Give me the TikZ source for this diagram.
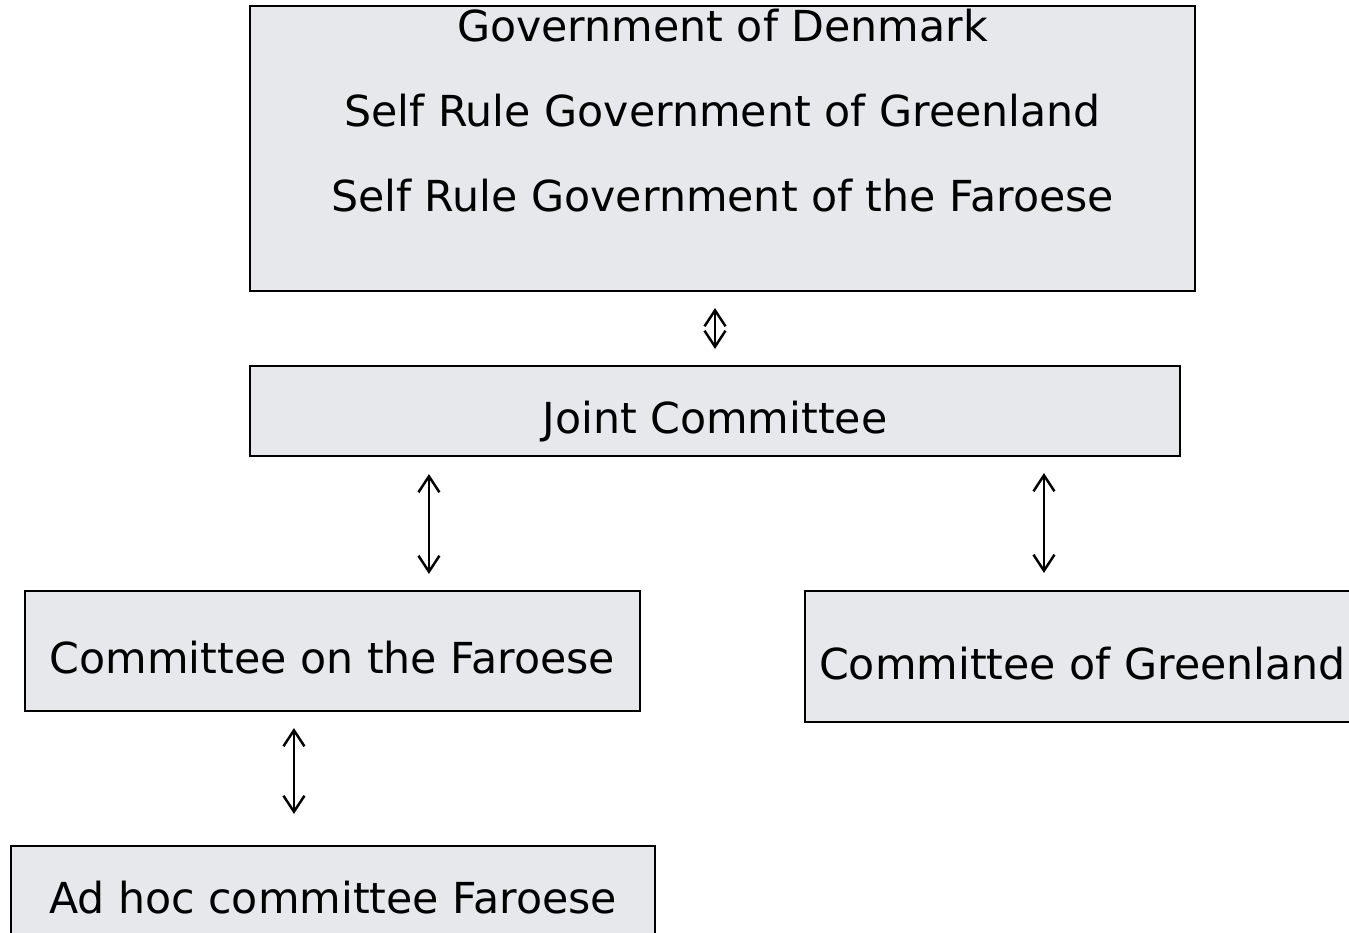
\documentclass[tikz,border=0pt]{standalone}
\usepackage{fontspec}
\setmainfont{DejaVu Sans}
\usepackage{tikz}
\usetikzlibrary{arrows.meta, positioning}
\definecolor{colorBox}{RGB}{231,232,236}
\tikzset{box/.style={draw=black, line width=0.6pt, fill=colorBox, inner sep=0pt, text height=0.5cm, text depth=0.05cm}}
\begin{document}
\begin{tikzpicture}[>={Straight Barb[length=1.6mm, width=2.1mm]}, link/.style={<->, line width=0.7pt}, every node/.style={font=\fontsize{12.15}{14.6}\selectfont}]
\useasboundingbox (0,0) rectangle (13.49,9.32);
\clip (0,0) rectangle (13.49,9.32);
\node[box, minimum width=9.45cm, minimum height=2.85cm] (gov) at (7.225,7.835) {};
\node[below=-0.08cm of gov.north, align=center, font=\fontsize{12.15}{24.1}\selectfont] (govtext) {Government of Denmark\\Self Rule Government of Greenland\\Self Rule Government of the Faroese};
\node[box, minimum width=9.30cm, minimum height=0.90cm] (joint) at (7.15,5.21) {Joint Committee};
\node[box, minimum width=6.15cm, minimum height=1.20cm] (faroese) at (3.325,2.81) {Committee on the Faroese};
\node[box, minimum width=5.55cm, minimum height=1.31cm] (greenland) at (10.825,2.755) {Committee of Greenland};
\node[box, minimum width=6.44cm, minimum height=0.89cm] (adhoc) at (3.33,0.415) {Ad hoc committee Faroese};
\draw[link, shorten <=0.16cm, shorten >=0.16cm] (joint.north) -- (joint.north |- gov.south);
\draw[link, shorten <=0.17cm, shorten >=0.16cm] ([xshift=1.8cm]joint.south west) -- ([xshift=1.8cm]joint.south west |- faroese.north);
\draw[link, shorten <=0.17cm, shorten >=0.16cm] ([xshift=2.4cm]greenland.north west) -- ([xshift=2.4cm]greenland.north west |- joint.south);
\draw[link, shorten <=0.16cm, shorten >=0.31cm] ([xshift=2.7cm]faroese.south west) -- ([xshift=2.7cm]faroese.south west |- adhoc.north);
\end{tikzpicture}
\end{document}
